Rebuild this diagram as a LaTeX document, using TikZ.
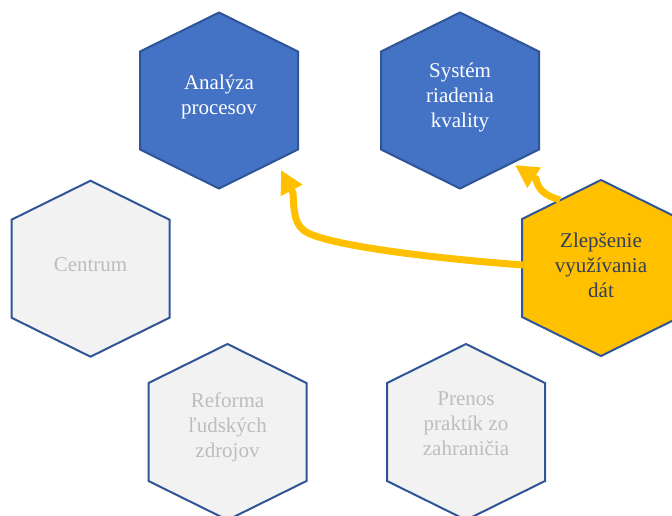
\documentclass[tikz,border=0pt]{standalone}
\usepackage{fontspec}
\setmainfont{Liberation Serif}
\usetikzlibrary{arrows.meta}
\definecolor{hexline}{HTML}{2F5597}
\definecolor{hexblue}{HTML}{4472C4}
\definecolor{hexgold}{HTML}{FFC000}
\definecolor{hexgray}{HTML}{F2F2F2}
\definecolor{txtgray}{HTML}{BDBDBD}
\definecolor{txtdark}{HTML}{323F56}
\newcommand{\hexshape}[3]{%
  \draw[#3] (#1,#2) ++(0,-88) -- ++(79,39) -- ++(0,98) -- ++(-79,39) -- ++(-79,-39) -- ++(0,-98) -- cycle;}
\tikzset{
  hexbase/.style={line width=2pt, draw=hexline, line join=miter},
  blueshape/.style={hexbase, fill=hexblue},
  goldshape/.style={hexbase, fill=hexgold},
  grayshape/.style={hexbase, fill=hexgray},
  lbl/.style={align=center, inner sep=0pt, font=\fontsize{21}{25}\selectfont},
  flow/.style={line width=7pt, draw=hexgold, -{Triangle[length=23pt,width=23pt]}}
}
\begin{document}
\begin{tikzpicture}[x=1pt,y=-1pt]
\useasboundingbox (0,0) rectangle (672,515);
\clip (0,0) rectangle (672,515);
\hexshape{219}{100.5}{blueshape}
\hexshape{460}{100.5}{blueshape}
\hexshape{90.5}{268.7}{grayshape}
\hexshape{601}{268}{goldshape}
\hexshape{227.5}{432}{grayshape}
\hexshape{466}{432}{grayshape}
\node[lbl, text=white] (ana) at (219,97) {Analýza\\procesov};
\node[lbl, text=white] (sys) at (460,97.7) {Systém\\riadenia\\kvality};
\node[lbl, text=txtgray] (cen) at (90.5,264.7) {Centrum};
\node[lbl, text=txtdark] (zle) at (601,265.5) {Zlepšenie\\využívania\\dát};
\node[lbl, text=txtgray] (ref) at (227.5,427.5) {Reforma\\ľudských\\zdrojov};
\node[lbl, text=txtgray] (pre) at (466,423.8) {Prenos\\praktík zo\\zahraničia};
\coordinate (zleW) at (523,265);
\coordinate (zleNW) at (560,200);
\coordinate (anaTip) at (281,170);
\coordinate (sysTip) at (515,165);
\draw[flow] (zleW) .. controls (430,258) and (335,246) .. (308,233) .. controls (294,226) and (294,212) .. (293,193) -- (anaTip);
\draw[flow] (zleNW) .. controls (546,196) and (538,190) .. (536,179) -- (sysTip);
\end{tikzpicture}
\end{document}
